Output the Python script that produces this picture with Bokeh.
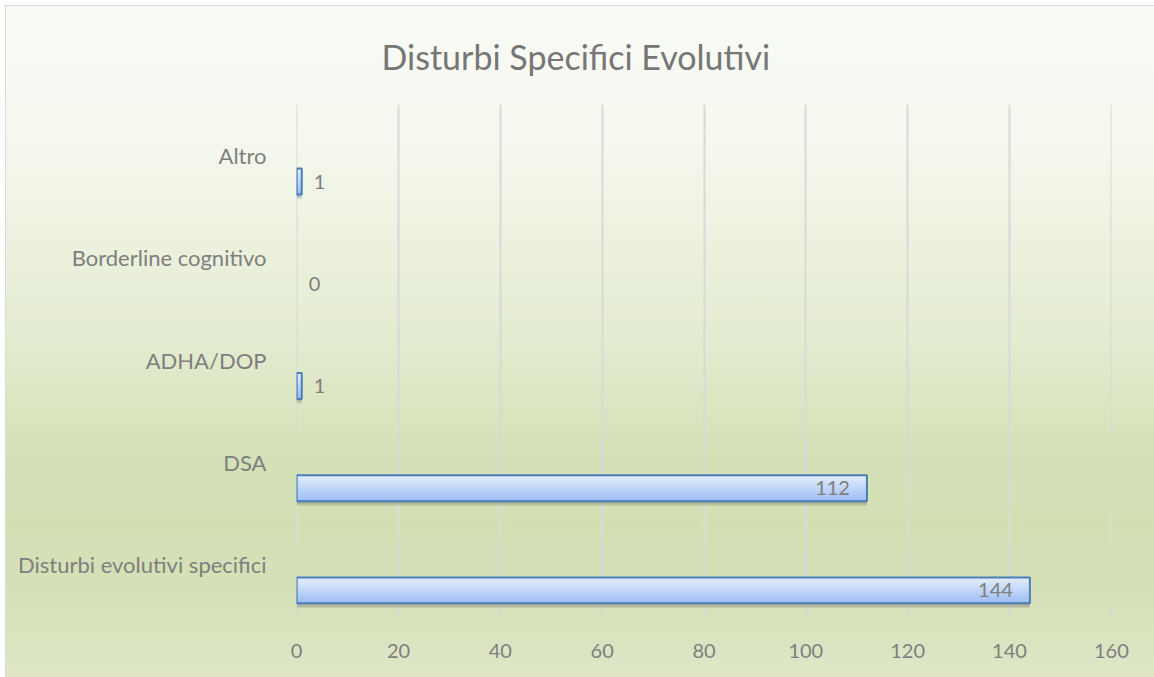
from bokeh.plotting import figure
from bokeh.models import ColumnDataSource, FactorRange, FixedTicker
from bokeh.transform import dodge
from bokeh.core.properties import value
from bokeh.embed import file_html
from bokeh.resources import INLINE

# ---- data ----
categories = ["Disturbi evolutivi specifici", "DSA", "ADHA/DOP", "Borderline cognitivo", "Altro"]
counts = [144, 112, 1, 0, 1]
x_ticks = [0, 20, 40, 60, 80, 100, 120, 140, 160]
title_text = "Disturbi Specifici Evolutivi"

FONT = "Lato"
GRAY = "#7f7f7f"

W, H = 1154, 677
p = figure(width=W, height=H, y_range=FactorRange(*categories), x_range=(-0.03, 160.03),
           output_backend="svg", toolbar_location=None,
           min_border_left=296, min_border_right=43, min_border_top=104, min_border_bottom=62)
p.background_fill_color = None
p.border_fill_color = None
p.outline_line_color = None
p.styles = {
    "background": ("linear-gradient(#d9d9d9, #d9d9d9) 5px 5px / 100% 1px no-repeat, "
                   "linear-gradient(#d9d9d9, #d9d9d9) 5px 5px / 1px 100% no-repeat, "
                   "linear-gradient(180deg, #f9fbf6 0%, #f5f8ee 20%, #e3ebcf 50%, #d6e1b8 65%, "
                   "#d3dfb3 77%, #d6e1b8 87%, #dfe7c8 100%) 6px 6px / 100% 100% no-repeat, #ffffff"),
}

# title
p.title.text = title_text
p.title.align = "left"
p.title.offset = 85
p.title.standoff = 55
p.title.text_font = FONT
p.title.text_font_size = "34px"
p.title.text_font_style = "normal"
p.title.text_color = "#767676"

# grid
p.xgrid.ticker = FixedTicker(ticks=x_ticks)
p.xgrid.grid_line_color = "#d9d9d9"
p.xgrid.grid_line_width = 2
p.ygrid.grid_line_color = None

# axes
p.xaxis.ticker = FixedTicker(ticks=x_ticks)
p.xaxis.axis_line_color = None
p.xaxis.major_tick_line_color = None
p.xaxis.minor_tick_line_color = None
p.xaxis.major_label_standoff = 22
p.xaxis.major_label_text_font = FONT
p.xaxis.major_label_text_font_size = "20px"
p.xaxis.major_label_text_color = GRAY

p.yaxis.axis_line_color = None
p.yaxis.major_tick_line_color = None
p.yaxis.minor_tick_line_color = None
p.yaxis.major_label_standoff = 24
p.yaxis.major_label_text_font = FONT
p.yaxis.major_label_text_font_size = "22px"
p.yaxis.major_label_text_color = GRAY

# bars
src = ColumnDataSource(dict(cat=categories, val=counts,
                            la=[1.0 if v > 0 else 0.0 for v in counts],
                            sa=[0.10 if v > 0 else 0.0 for v in counts]))
OFF = -0.254
BH = 0.254
BOTTOM = OFF - BH / 2

# soft shadow
for d in (0.045, 0.03):
    p.hbar(y=dodge("cat", OFF - d, range=p.y_range), left=0, right="val", height=BH,
           fill_color="black", fill_alpha="sa", line_color=None, source=src)

# gradient fill (layers stacked from top to bottom)
top = (226, 236, 253)
bot = (160, 191, 243)
N = 12
for i in range(N):
    t = i / (N - 1)
    c = tuple(int(round(top[k] + (bot[k] - top[k]) * t)) for k in range(3))
    col = "#%02x%02x%02x" % c
    hh = BH * (N - i) / N
    p.hbar(y=dodge("cat", BOTTOM + hh / 2, range=p.y_range),
           left=0, right="val", height=hh,
           fill_color=col, line_color=None, source=src)

# outline
p.hbar(y=dodge("cat", OFF, range=p.y_range), left=0, right="val", height=BH,
       fill_alpha=0, line_color="#4a7ebb", line_width=2, line_alpha="la", source=src)

# value labels
inside = ColumnDataSource(dict(cat=[c for c, v in zip(categories, counts) if v >= 50],
                               val=[v for v in counts if v >= 50],
                               txt=[str(v) for v in counts if v >= 50]))
outside = ColumnDataSource(dict(cat=[c for c, v in zip(categories, counts) if v < 50],
                                val=[v for v in counts if v < 50],
                                txt=[str(v) for v in counts if v < 50]))
p.text(x="val", y=dodge("cat", OFF, range=p.y_range), text="txt", source=inside,
       text_align="right", text_baseline="middle", x_offset=-17,
       text_font=value(FONT), text_font_size="20px", text_color=GRAY)
p.text(x="val", y=dodge("cat", OFF, range=p.y_range), text="txt", source=outside,
       text_align="left", text_baseline="middle", x_offset=12,
       text_font=value(FONT), text_font_size="20px", text_color=GRAY)

open("out.html", "w").write(file_html(p, INLINE))
